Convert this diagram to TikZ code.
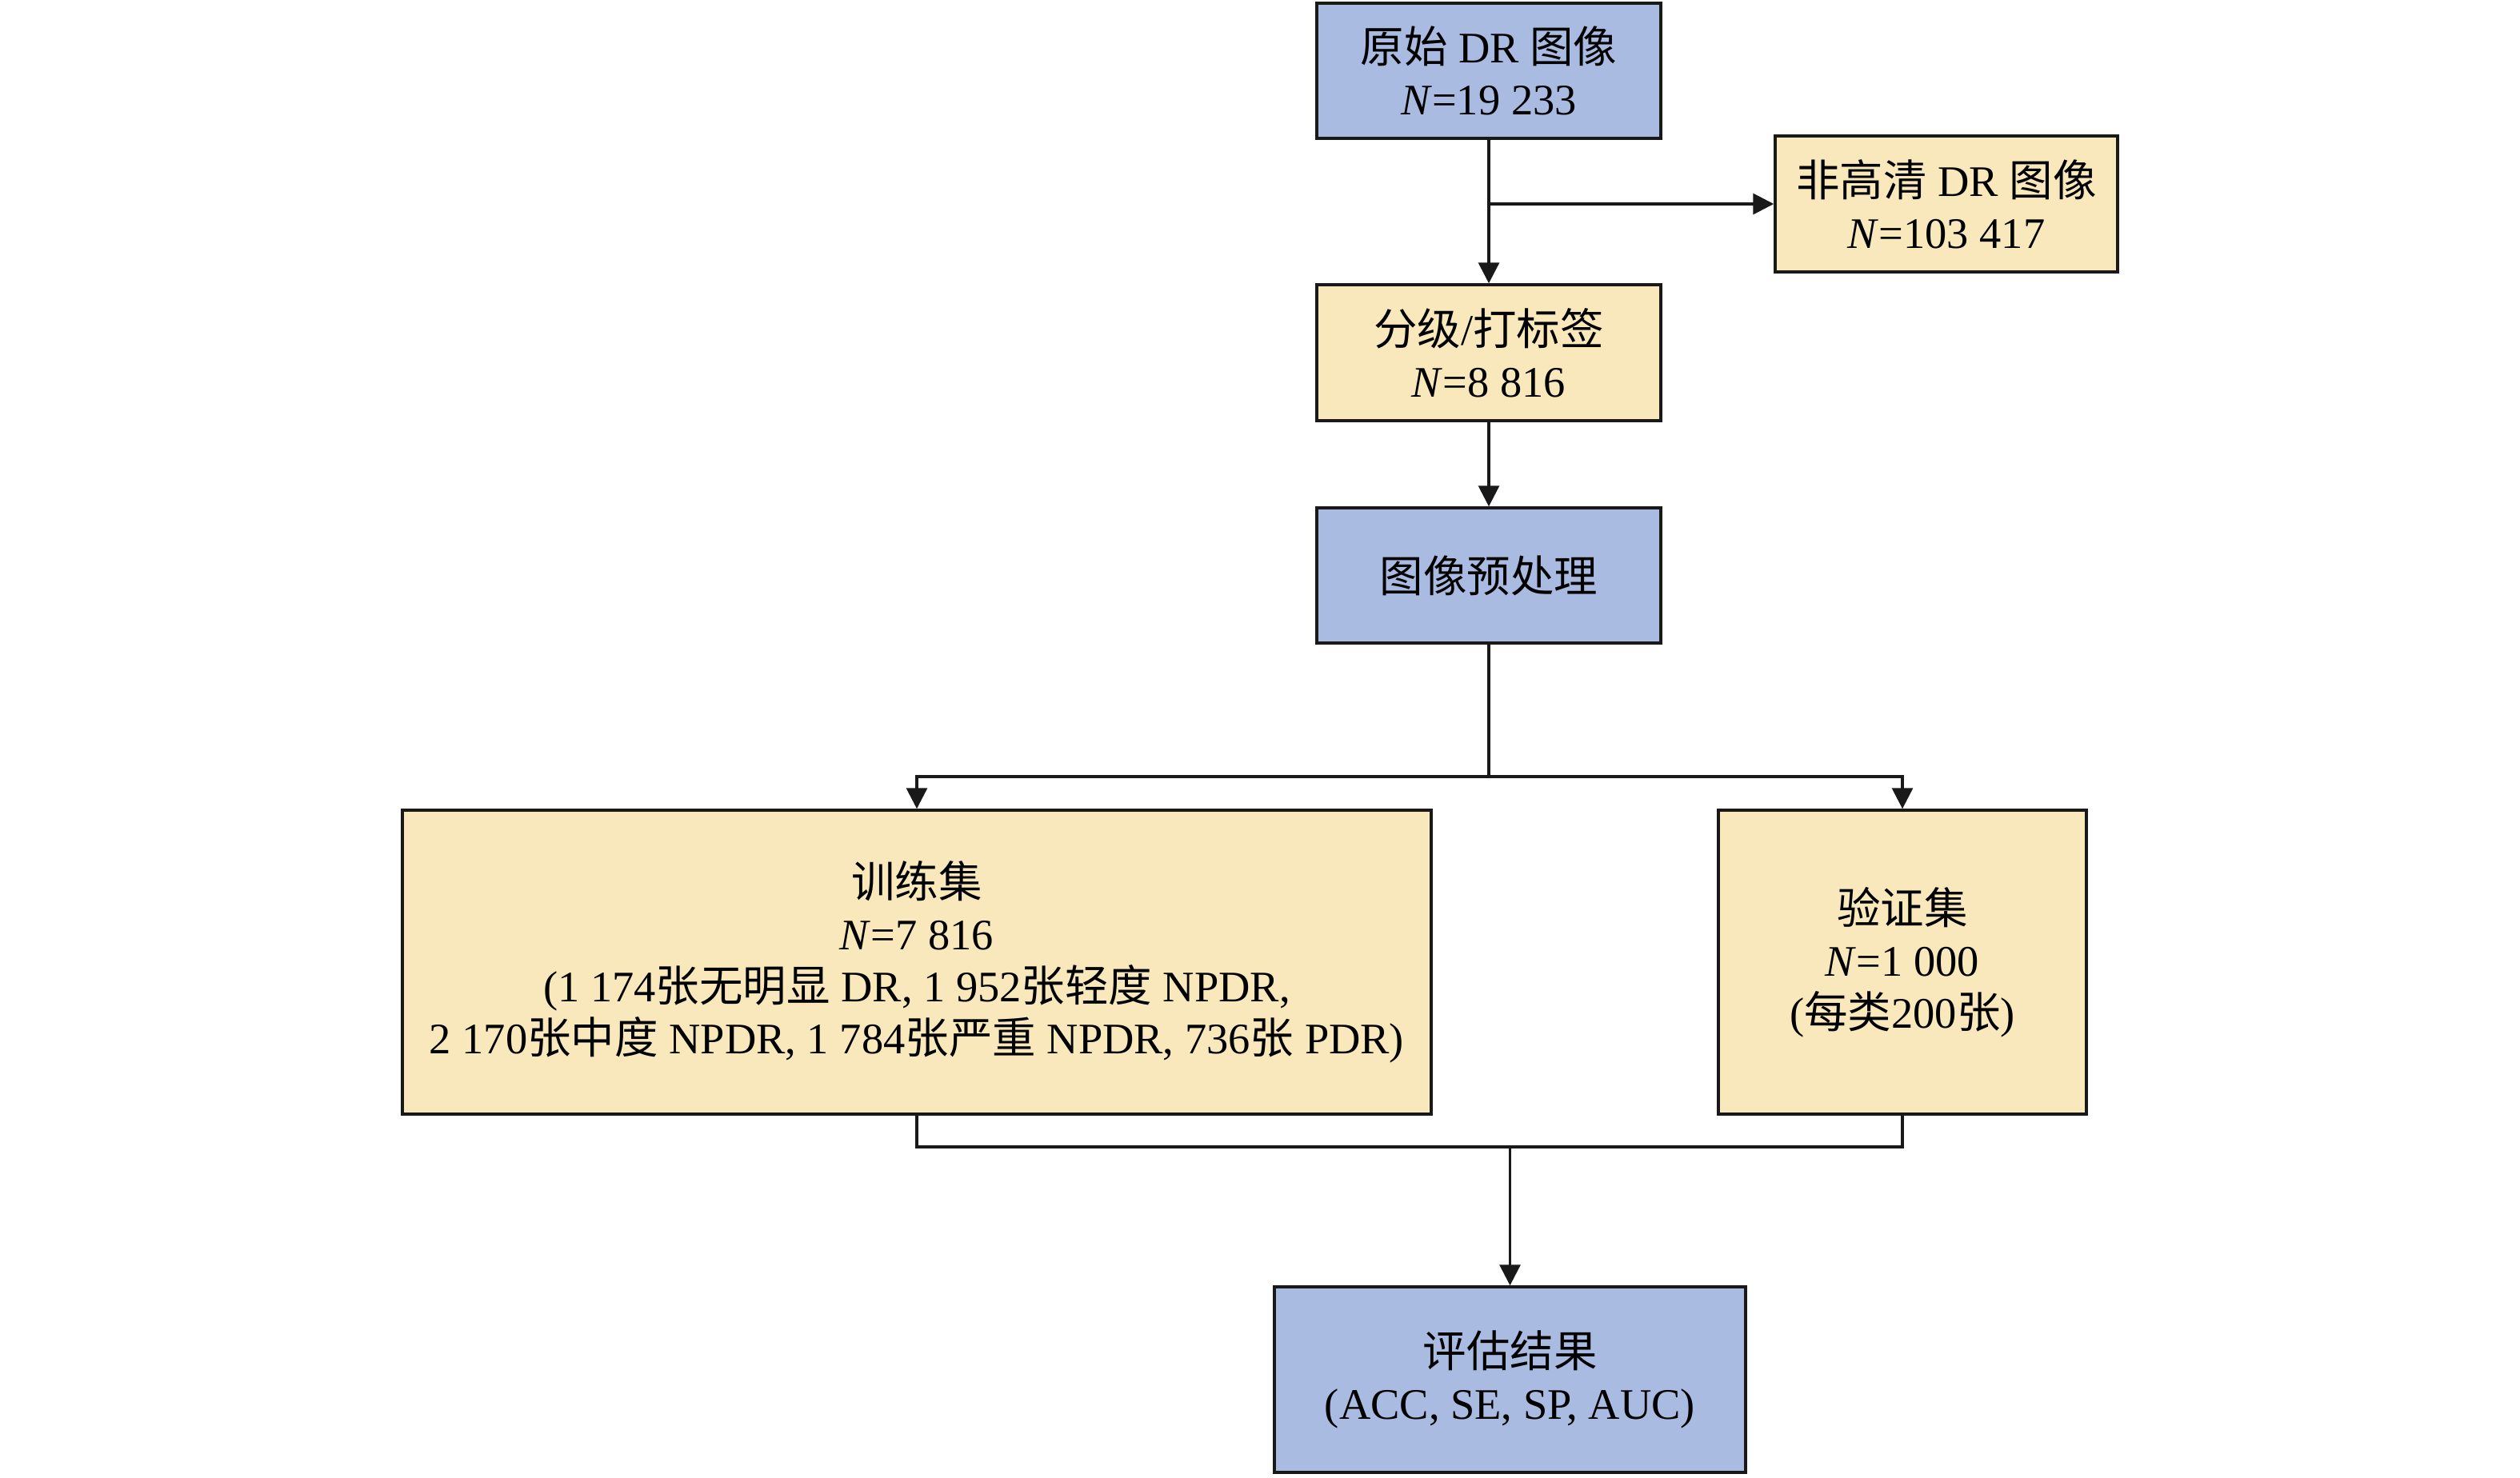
\documentclass[tikz,border=0pt]{standalone}
\usepackage{fontspec}
\setmainfont{Liberation Serif}
\newfontfamily\cjk{Noto Sans CJK SC}
\newcommand{\zh}[1]{{\cjk #1}}
\usetikzlibrary{arrows.meta}
\definecolor{stageblue}{RGB}{169,187,224}
\definecolor{stageyellow}{RGB}{249,232,188}

\begin{document}
\begin{tikzpicture}[
    box/.style={draw=black!90, line width=1pt, align=center, inner sep=0pt,
        font=\fontsize{15.5}{18.5}\selectfont},
    bluebox/.style={box, fill=stageblue},
    yellowbox/.style={box, fill=stageyellow},
    link/.style={line width=0.9pt, black!90},
    arr/.style={link, -{Triangle[length=2.6mm, width=2.6mm]}}
]
    \useasboundingbox (0,0) rectangle (31.5,-18.47);

    % Screening
    \node[bluebox, minimum width=4.3cm, minimum height=1.69cm] (raw) at (18.61,-0.885)
        {\zh{原始} DR \zh{图像}\\\textit{N}=19 233};
    \node[yellowbox, minimum width=4.28cm, minimum height=1.7cm] (nonhd) at (24.33,-2.55)
        {\zh{非高清} DR \zh{图像}\\\textit{N}=103 417};
    \node[yellowbox, minimum width=4.3cm, minimum height=1.7cm] (grade) at (18.61,-4.41)
        {\zh{分级}/\zh{打标签}\\\textit{N}=8 816};
    \node[bluebox, minimum width=4.3cm, minimum height=1.69cm] (prep) at (18.61,-7.195)
        {\zh{图像预处理}};

    % Split
    \node[yellowbox, minimum width=12.86cm, minimum height=3.8cm] (train) at (11.46,-12.03)
        {\zh{训练集}\\\textit{N}=7 816\\
         (1 174\zh{张无明显} DR, 1 952\zh{张轻度} NPDR,\\
         2 170\zh{张中度} NPDR, 1 784\zh{张严重} NPDR, 736\zh{张} PDR)};
    \node[yellowbox, minimum width=4.6cm, minimum height=3.8cm] (val) at (23.78,-12.03)
        {\zh{验证集}\\\textit{N}=1 000\\(\zh{每类}200\zh{张})};

    % Result
    \node[bluebox, minimum width=5.89cm, minimum height=2.32cm] (eval) at (18.875,-17.25)
        {\zh{评估结果}\\(ACC, SE, SP, AUC)};

    % Connectors
    \draw[arr] (raw) -- (grade);
    \draw[arr] (raw.south |- nonhd.west) -- (nonhd.west);
    \draw[arr] (grade) -- (prep);
    \coordinate (split) at (18.61,-9.71);
    \draw[link] (prep.south) -- (split);
    \draw[arr] (split) -| (train.north);
    \draw[arr] (split) -| (val.north);
    \coordinate (merge) at (18.875,-14.34);
    \draw[link] (train.south) |- (merge) -| (val.south);
    \draw[arr] (merge) -- (eval.north);
\end{tikzpicture}
\end{document}
